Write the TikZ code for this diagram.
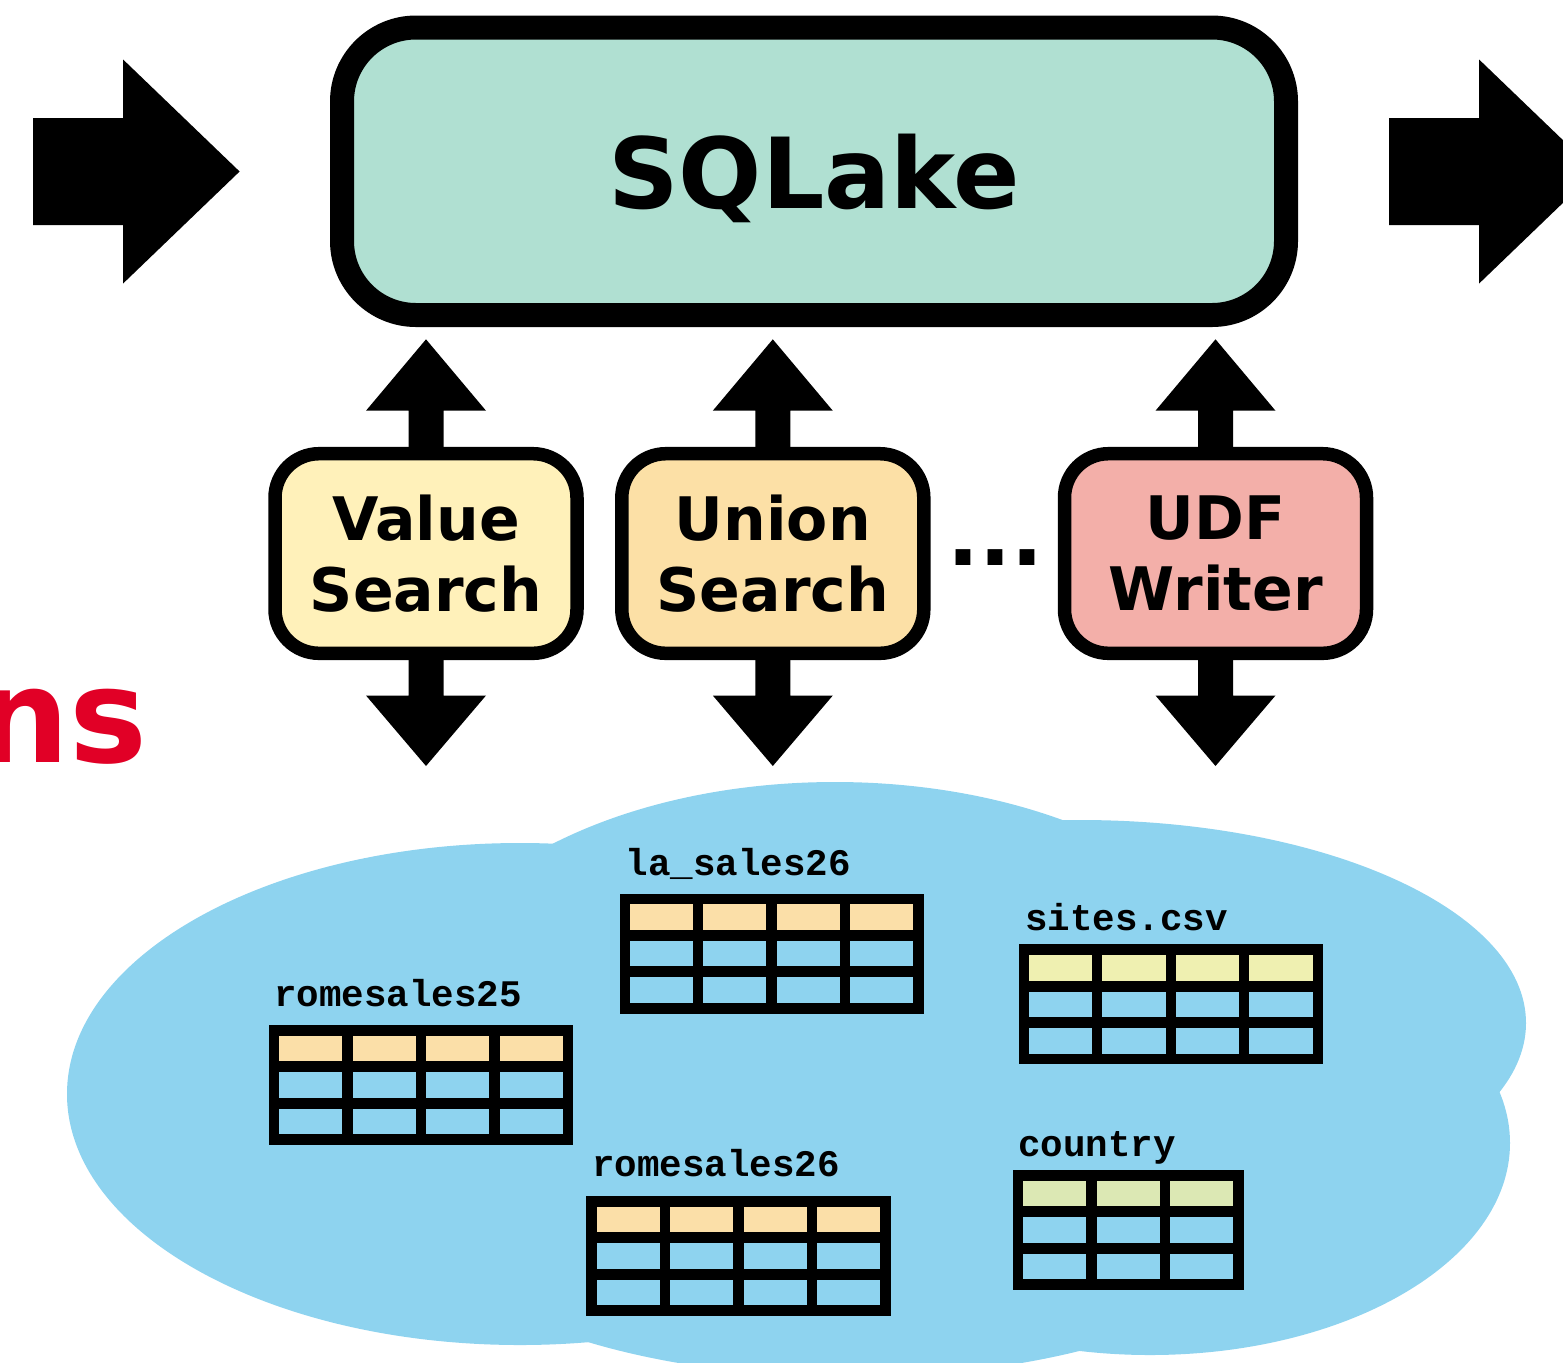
\documentclass[tikz,border=0pt]{standalone}
\usepackage{fontspec}
\newfontfamily\dvsans{DejaVu Sans}
\newfontfamily\lmono{Liberation Mono}
\usetikzlibrary{calc}

\definecolor{lakegreen}{RGB}{176,224,210}
\definecolor{valuefill}{RGB}{255,241,186}
\definecolor{unionfill}{RGB}{252,224,166}
\definecolor{udffill}{RGB}{243,175,169}
\definecolor{lakeblue}{RGB}{142,211,239}
\definecolor{hdrorange}{RGB}{251,223,168}
\definecolor{hdryellow}{RGB}{239,240,177}
\definecolor{hdrgreen}{RGB}{220,232,180}
\definecolor{titlered}{RGB}{225,0,38}

% wide horizontal block arrow: #1 tail, #2 tip (pointing right)
\newcommand\blockarrowh[2]{%
  \fill ($(#1)+(0,-53.5)$) -- ($(#2)+(-116.5,-53.5)$) -- ($(#2)+(-116.5,-112)$)
    -- (#2) -- ($(#2)+(-116.5,112)$) -- ($(#2)+(-116.5,53.5)$) -- ($(#1)+(0,53.5)$) -- cycle;}
% vertical block arrow: #1 tail, #2 tip, #3 signed offset from tip to head base
\newcommand\blockarrowv[3]{%
  \fill ($(#1)+(-17.5,0)$) -- ($(#2)+(-17.5,#3)$) -- ($(#2)+(-60,#3)$)
    -- (#2) -- ($(#2)+(60,#3)$) -- ($(#2)+(17.5,#3)$) -- ($(#1)+(17.5,0)$) -- cycle;}
% data table: #1 name, #2 x, #3 y (top-left corner), #4 columns, #5 header colour
\newcommand\datatable[5]{%
  \pgfmathsetmacro\tblw{(#4*73.5+10.2)*0.5}%
  \node[fill=black, inner sep=0pt, outer sep=0pt, anchor=north west,
        minimum width=\tblw pt, minimum height=60pt] (#1) at (#2,#3) {};
  \foreach \col in {1,...,#4}{%
    \fill[#5] ($(#1.north west)+({10.2+(\col-1)*73.5},10.7)$) rectangle ++(63.2,25.7);
    \fill[lakeblue] ($(#1.north west)+({10.2+(\col-1)*73.5},47.2)$) rectangle ++(63.2,25.7);
    \fill[lakeblue] ($(#1.north west)+({10.2+(\col-1)*73.5},83.7)$) rectangle ++(63.2,25.7);
  }}

\begin{document}
\begin{tikzpicture}[x=0.5pt,y=-0.5pt,
  sqbox/.style={draw=black, line width=12pt, fill=lakegreen, rounded corners=37pt,
    outer sep=0pt, inner sep=0pt, minimum width=472pt, minimum height=143.75pt,
    text depth=0pt, font=\dvsans\bfseries\fontsize{49}{58}\selectfont},
  opbox/.style={draw=black, line width=6.75pt, rounded corners=22pt,
    outer sep=0pt, inner sep=0pt, minimum width=151pt, minimum height=99.8pt,
    align=center, font=\dvsans\bfseries\fontsize{30}{35.85}\selectfont},
  tlabel/.style={anchor=base west, inner sep=0pt,
    font=\lmono\bfseries\fontsize{18.75}{20}\selectfont},
]
\useasboundingbox (0,0) rectangle (1563,1362);
\clip (0,0) rectangle (1563,1362);

% the data lake cloud
\begin{scope}[lakeblue]
  \fill (520,1094) ellipse [x radius=226.5pt, y radius=125.5pt];
  \fill (835,1032) ellipse [x radius=214.5pt, y radius=125pt];
  \fill (1080,1023) ellipse [x radius=223pt, y radius=101.5pt];
  \fill (1150,1143) ellipse [x radius=180pt, y radius=106pt];
  \fill (850,1200) ellipse [x radius=219.5pt, y radius=88.5pt];
\end{scope}

% tables in the lake
\datatable{tla}{619.5}{893.5}{4}{hdrorange}
\datatable{tromeA}{269}{1025}{4}{hdrorange}
\datatable{tsites}{1018.7}{944.3}{4}{hdryellow}
\datatable{tcountry}{1013}{1170}{3}{hdrgreen}
\datatable{tromeB}{586.3}{1196}{4}{hdrorange}

\node[tlabel] (lla) at (625.5,875) {la\_sales26};
\node[tlabel] (lromeA) at (274,1006.7) {romesales25};
\node[tlabel] (lsites) at (1025,930) {sites.csv};
\node[tlabel] (lcountry) at (1018,1156) {country};
\node[tlabel] (lromeB) at (592,1176.5) {romesales26};

% engine and operators
\node[sqbox] (sq) at (814,171.25) {SQLake};
\node[opbox, fill=valuefill] (vs) at (426,553.5) {Value\\Search};
\node[opbox, fill=unionfill] (us) at (772.8,553.5) {Union\\Search};
\node[opbox, fill=udffill] (udf) at (1215.5,553.5) {UDF\\Writer};
\node[anchor=base west, inner sep=0pt,
      font=\dvsans\bfseries\fontsize{42}{50}\selectfont] (dots) at (947,565) {...};

% input and output arrows
\coordinate (inS) at (33,171.5);
\coordinate (inT) at (239.6,171.5);
\coordinate (outS) at (1389,171.5);
\coordinate (outT) at (1595.6,171.5);
\blockarrowh{inS}{inT}
\blockarrowh{outS}{outT}

% operator <-> engine and operator <-> lake arrows
\foreach \op in {vs,us,udf}{
  \coordinate (\op up) at ($(\op.north |- sq.south)+(0,24.3)$);
  \coordinate (\op down) at ($(\op.south)+(0,112.7)$);
  \blockarrowv{\op.north}{\op up}{71.4}
  \blockarrowv{\op.south}{\op down}{-70.5}
}

% title fragment at the left edge
\node[anchor=base east, inner sep=0pt, text=titlered,
      font=\dvsans\bfseries\fontsize{65.5}{70}\selectfont] (ttl) at (148,762) {ns};
\end{tikzpicture}
\end{document}
